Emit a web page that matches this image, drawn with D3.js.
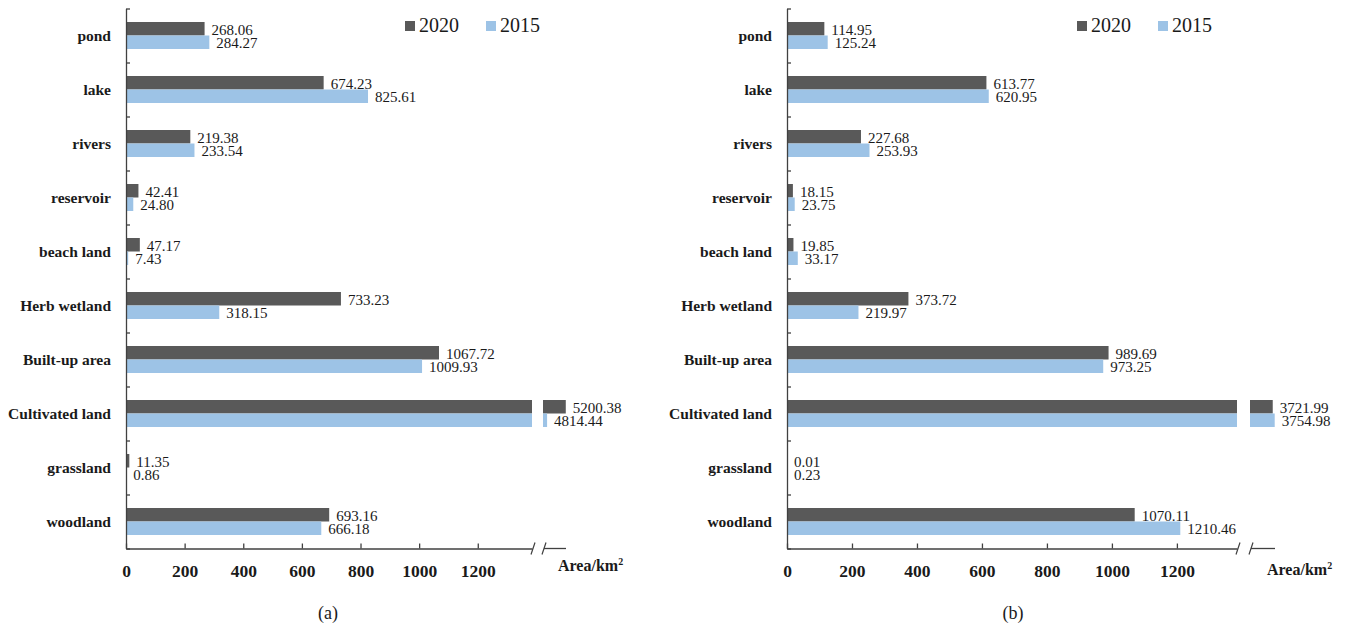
<!DOCTYPE html>
<html>
<head>
<meta charset="utf-8">
<script src="https://cdn.jsdelivr.net/npm/d3@7"></script>
<style>
  body { margin: 0; background: #fff; }
  text { font-family: "Liberation Serif", "Times New Roman", serif; fill: #1a1a1a; }
</style>
</head>
<body>
<div id="chart"></div>
<script>
const categories = ["pond", "lake", "rivers", "reservoir", "beach land", "Herb wetland",
  "Built-up area", "Cultivated land", "grassland", "woodland"];
const years = ["2020", "2015"];

// panel (a)
const a2020 = [268.06, 674.23, 219.38, 42.41, 47.17, 733.23, 1067.72, 5200.38, 11.35, 693.16];
const a2015 = [284.27, 825.61, 233.54, 24.80, 7.43, 318.15, 1009.93, 4814.44, 0.86, 666.18];
// panel (b)
const b2020 = [114.95, 613.77, 227.68, 18.15, 19.85, 373.72, 989.69, 3721.99, 0.01, 1070.11];
const b2015 = [125.24, 620.95, 253.93, 23.75, 33.17, 219.97, 973.25, 3754.98, 0.23, 1210.46];

const tickValues = [0, 200, 400, 600, 800, 1000, 1200];
const breakValue = 1385;

const colors = { "2020": "#595959", "2015": "#9dc3e6" };

const panels = [
  { tag: "(a)", series: { "2020": a2020, "2015": a2015 }, x0: 126, xBreak: 532, tailRange: [543, 566], tailDomain: [4730, 5205], legendX: 405, areaY: 571 },
  { tag: "(b)", series: { "2020": b2020, "2015": b2015 }, x0: 787, xBreak: 1237, tailRange: [1250, 1275], tailDomain: [3340, 3760], legendX: 1077, areaY: 575 }
];

const yTop = 8.5, yBottom = 548.5;

const svg = d3.select("#chart").append("svg")
  .attr("width", 1351).attr("height", 628);

const y = d3.scaleBand().domain(categories).range([yTop, yBottom]);
const ySub = d3.scaleBand().domain(years).range([0, y.bandwidth()]).paddingInner(0).paddingOuter(1);
const yEdge = d3.scaleLinear().domain([0, categories.length]).range([yTop, yBottom]);

panels.forEach(drawPanel);

function drawPanel(p) {
  const x = d3.scaleLinear().domain([0, breakValue]).range([p.x0, p.xBreak]),
        xTail = d3.scaleLinear().domain(p.tailDomain).range(p.tailRange),
        g = svg.append("g");

  years.forEach(yr => {
    let rows = categories.map((c, i) => ({ c, v: p.series[yr][i] }));

    g.selectAll(null).data(rows).enter().append("rect")
      .attr("x", p.x0).attr("y", d => y(d.c) + ySub(yr))
      .attr("width", d => x(Math.min(d.v, breakValue)) - p.x0)
      .attr("height", ySub.bandwidth()).attr("fill", colors[yr]);

    g.selectAll(null).data(rows.filter(d => d.v > breakValue)).enter().append("rect")
      .attr("x", p.tailRange[0]).attr("y", d => y(d.c) + ySub(yr))
      .attr("width", d => xTail(d.v) - p.tailRange[0])
      .attr("height", ySub.bandwidth()).attr("fill", colors[yr]);

    g.selectAll(null).data(rows).enter().append("text")
      .attr("x", d => (d.v > breakValue ? xTail(d.v) : x(d.v)) + 7)
      .attr("y", d => y(d.c) + ySub(yr) + ySub.bandwidth() - 1)
      .style("font-size", "15px")
      .text(d => d.v.toFixed(2));
  });

  // y axis with inward ticks at band edges
  g.append("g").attr("transform", `translate(${p.x0},0)`)
    .call(d3.axisLeft(yEdge).tickValues(d3.range(categories.length + 1)).tickSizeInner(-4).tickSizeOuter(0).tickFormat(""))
    .call(a => a.selectAll("path, line").attr("stroke", "#404040").attr("stroke-width", 1.3));

  g.selectAll(null).data(categories).enter().append("text")
    .attr("x", p.x0 - 15).attr("y", d => y(d) + y.bandwidth() / 2 + 5)
    .attr("text-anchor", "end")
    .style("font-size", "15.5px").style("font-weight", "bold")
    .text(d => d);

  // x axis, broken
  g.append("g").attr("transform", `translate(0,${yBottom})`)
    .call(d3.axisBottom(x).tickValues(tickValues).tickFormat(d3.format("d"))
      .tickSizeInner(-5).tickSizeOuter(0).tickPadding(16))
    .call(a => a.selectAll("path, line").attr("stroke", "#404040").attr("stroke-width", 1.3))
    .call(a => a.selectAll("text").style("font-size", "17.5px").style("font-weight", "bold")
      .style("font-family", "'Liberation Serif', serif").attr("fill", "#1a1a1a"));

  g.append("line")
    .attr("x1", p.tailRange[0] + 1).attr("x2", p.tailRange[1])
    .attr("y1", yBottom).attr("y2", yBottom)
    .attr("stroke", "#404040").attr("stroke-width", 1.3);

  [p.xBreak + 1, p.tailRange[0] + 1].forEach(bx => {
    g.append("line")
      .attr("x1", bx - 2).attr("y1", yBottom + 6).attr("x2", bx + 2).attr("y2", yBottom - 6)
      .attr("stroke", "#404040").attr("stroke-width", 1.2);
  });

  let area = g.append("text")
    .attr("x", p.tailRange[1] - 8).attr("y", p.areaY)
    .style("font-size", "16px").style("font-weight", "bold");
  area.append("tspan").text("Area/km");
  area.append("tspan").attr("dy", -6).style("font-size", "10px").text("2");

  g.append("text")
    .attr("x", (p.x0 + p.tailRange[1]) / 2 - 18).attr("y", 619)
    .attr("text-anchor", "middle").style("font-size", "18px")
    .text(p.tag);

  // legend
  years.forEach((yr, i) => {
    let lx = p.legendX + i * 81;
    g.append("rect").attr("x", lx).attr("y", 21).attr("width", 10).attr("height", 10).attr("fill", colors[yr]);
    g.append("text").attr("x", lx + 14).attr("y", 32).style("font-size", "20px").text(yr);
  });
}
</script>
</body>
</html>
